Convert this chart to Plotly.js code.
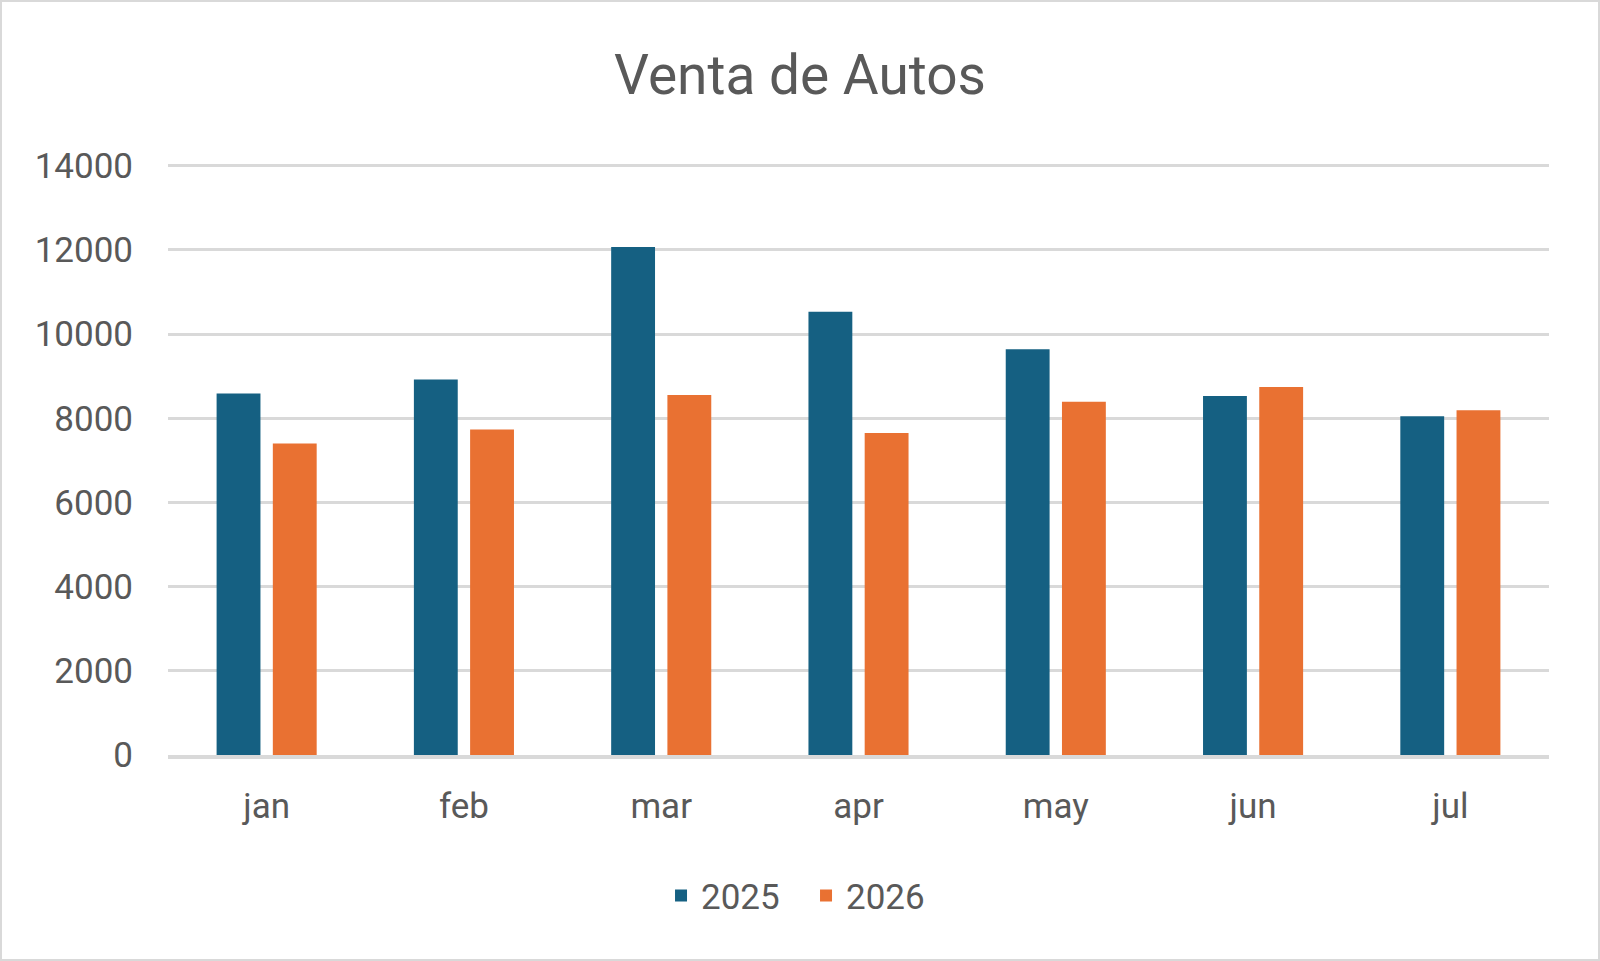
<!DOCTYPE html>
<html>
<head>
<meta charset="utf-8">
<script src="https://cdn.plot.ly/plotly-3.0.1.min.js"></script>
<style>
  html, body { margin: 0; padding: 0; background: #ffffff; }
  #frame {
    width: 1600px;
    height: 961px;
    box-sizing: border-box;
    border: 2px solid #d9d9d9;
    overflow: hidden;
  }
  #chart { width: 1596px; height: 957px; }
</style>
</head>
<body>
<div id="frame"><div id="chart"></div></div>
<script>
const MONTHS = ["jan", "feb", "mar", "apr", "may", "jun", "jul"];
const SALES_2025 = [8590, 8920, 12070, 10530, 9640, 8530, 8050];
const SALES_2026 = [7400, 7730, 8550, 7650, 8390, 8740, 8190];

const TEXT_COLOR = "#595959";
const FONT = "Roboto, Open Sans, sans-serif";

const data = [
  {
    type: "bar",
    name: "2025",
    x: MONTHS,
    y: SALES_2025,
    marker: { color: "#156082" },
    hoverinfo: "x+y+name",
  },
  {
    type: "bar",
    name: "2026",
    x: MONTHS,
    y: SALES_2026,
    marker: { color: "#e97132" },
    hoverinfo: "x+y+name",
  },
];

const layout = {
  width: 1596,
  height: 957,
  paper_bgcolor: "#ffffff",
  plot_bgcolor: "#ffffff",
  font: { family: FONT, color: TEXT_COLOR, size: 35 },
  title: {
    text: "Venta de Autos",
    font: { family: FONT, color: TEXT_COLOR, size: 55 },
    x: 0.5,
    xref: "container",
    xanchor: "center",
    y: 0.924,
    yref: "container",
    yanchor: "middle",
  },
  barmode: "group",
  bargap: 0.43,
  bargroupgap: 0.22,
  xaxis: {
    type: "category",
    showgrid: false,
    showline: true,
    linecolor: "#d9d9d9",
    linewidth: 4,
    ticks: "",
    ticklabelstandoff: 17,
    tickfont: { family: FONT, color: TEXT_COLOR, size: 35 },
    fixedrange: true,
  },
  yaxis: {
    range: [0, 14040],
    dtick: 2000,
    tick0: 0,
    tickformat: "d",
    showgrid: true,
    gridcolor: "#d9d9d9",
    gridwidth: 2.5,
    zeroline: false,
    showline: false,
    ticks: "",
    ticklabelstandoff: 34,
    tickfont: { family: FONT, color: TEXT_COLOR, size: 35 },
    fixedrange: true,
  },
  showlegend: true,
  legend: {
    orientation: "h",
    x: 0.462,
    xanchor: "center",
    y: -0.238,
    yanchor: "middle",
    font: { family: FONT, color: TEXT_COLOR, size: 35 },
    itemwidth: 30,
    entrywidth: 100,
  },
  margin: { l: 166, r: 49, t: 162, b: 204, pad: 0 },
};

Plotly.newPlot("chart", data, layout, { displayModeBar: false, responsive: false });
</script>
</body>
</html>
